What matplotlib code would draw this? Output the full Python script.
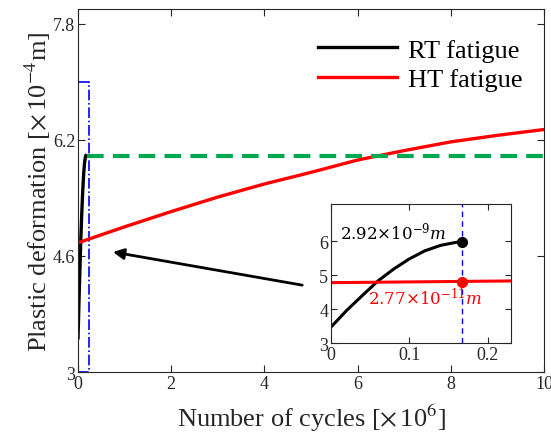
import numpy as np
import matplotlib
matplotlib.use("Agg")
import matplotlib.pyplot as plt
from matplotlib.patches import Rectangle

plt.rcParams['font.family'] = ['Liberation Serif', 'DejaVu Serif']
plt.rcParams['mathtext.fontset'] = 'stix'

# RT fatigue (x in 1e6 cycles, y in 1e-4 m)
rt_x = [0, 0.02, 0.04, 0.06, 0.08, 0.10, 0.12, 0.14, 0.16, 0.168]
rt_y = [3.47, 3.96, 4.40, 4.83, 5.18, 5.48, 5.72, 5.88, 5.97, 5.98]
# HT fatigue
ht_x = [0, 1, 2, 3, 4, 5, 6, 7, 8, 9, 10]
ht_y = [4.78, 5.00, 5.21, 5.41, 5.59, 5.75, 5.92, 6.05, 6.17, 6.26, 6.34]
# saturation level of RT curve
sat_x = [0.2, 10]
sat_y = [5.97, 5.97]
# end points marked in inset
end_x = 0.168
end_rt = 5.98
end_ht = 4.80

xticks = [0, 2, 4, 6, 8, 10]
yticks = [3, 4.6, 6.2, 7.8]
yticklabels = ['3', '4.6', '6.2', '7.8']

tc = '#262626'

fig = plt.figure(figsize=(5.51, 4.39), dpi=100)
ax = fig.add_axes([0.1416, 0.1503, 0.8457, 0.8269])

ax.plot(rt_x, rt_y, color='k', lw=2.4, label='RT fatigue')
ax.plot(ht_x, ht_y, color='#ff0000', lw=2.4, label='HT fatigue')
ax.plot(sat_x, sat_y, color='#00a94f', lw=3, ls=(0, (4, 2.2)))
ax.add_patch(Rectangle((0.005, 3), 0.225, 4.0, fill=False, ec='#0000ff', lw=1.2, ls='-.'))
ax.annotate('', xy=(0.69, 4.66), xytext=(4.87, 4.19),
            arrowprops=dict(arrowstyle='-|>', lw=2, color='k', mutation_scale=16))

ax.set_xlim(0, 10)
ax.set_ylim(3, 8)
ax.set_xticks(xticks)
ax.set_xticklabels([str(v) for v in xticks])
ax.set_yticks(yticks)
ax.set_yticklabels(yticklabels)
ax.tick_params(direction='in', top=True, right=True, labelsize=13, colors=tc, length=5, pad=2)
for s in ax.spines.values():
    s.set_color(tc)
ax.set_xlabel(r'Number of cycles [$\times\,$10$^{6}$]', fontsize=19, color=tc, labelpad=7)
ax.set_ylabel(r'Plastic deformation [$\times\,$10$^{-4}$m]', fontsize=19, color=tc, labelpad=0)

ax.legend(loc='upper left', bbox_to_anchor=(0.515, 0.92), frameon=False, fontsize=19,
          handlelength=3.0, handletextpad=0.4, labelspacing=0.22, borderpad=0, borderaxespad=0)

# inset
ins = fig.add_axes([0.6007, 0.2164, 0.3267, 0.3166])
ins.plot(rt_x, rt_y, color='k', lw=2.2)
ins.plot(ht_x, ht_y, color='#ff0000', lw=2.2)
ins.axvline(end_x, color='#0000ff', lw=1, ls=(0, (4, 3)))
ins.plot(end_x, end_rt, 'o', color='k', ms=7)
ins.plot(end_x, end_ht, 'o', color='#ff0000', ms=7)
ins.text(0.011, 6.3, r'$2.92{\times}10^{-9}m$', fontsize=12, color='k', va='center',
         math_fontfamily='dejavuserif')
ins.text(0.047, 4.35, r'$2.77{\times}10^{-11}m$', fontsize=12, color='#ff0000', va='center',
         math_fontfamily='dejavuserif')
ins.set_xlim(0, 0.23)
ins.set_ylim(3, 7.1)
ins.set_xticks([0, 0.1, 0.2])
ins.set_xticklabels(['0', '0.1', '0.2'])
ins.set_yticks([3, 4, 5, 6])
ins.set_yticklabels(['3', '4', '5', '6'])
ins.tick_params(direction='in', top=True, right=True, labelsize=13, colors=tc, length=4, pad=2)
for s in ins.spines.values():
    s.set_color(tc)

fig.savefig('out.png', dpi=100)
